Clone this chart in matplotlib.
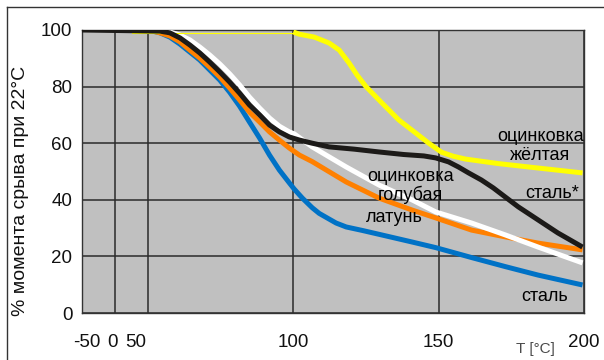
import numpy as np
import matplotlib.pyplot as plt
from matplotlib.lines import Line2D
from matplotlib.transforms import ScaledTranslation

plt.rcParams['font.family'] = ['Liberation Sans', 'DejaVu Sans']

# torque retained (% of value at 22 C) vs temperature
t_black = [-50, 54.1, 57.5, 61, 64.4, 67.8, 71.2, 74.7, 78.1, 81.5, 84.9, 88.4, 91.8, 95.2, 98.6,
           102.1, 106.5, 112.3, 120.9, 129.5, 138, 144.9, 149, 153.4, 156.8, 160.3, 164.7, 168.8,
           172.9, 177.4, 184.2, 191, 199.5]
v_black = [100, 99.6, 99, 97.2, 94.7, 91.9, 88.7, 85.2, 81.6, 77.7, 73.5, 70, 66.4, 64, 62.2,
           61.1, 60, 58.7, 57.9, 56.9, 56, 55.5, 54.8, 53.4, 51.6, 49.5, 47, 44.2,
           41, 37.5, 32.9, 28.3, 23.3]

t_blue = [50, 54.1, 57.5, 61, 64.4, 67.8, 71.2, 74.7, 78.1, 81.5, 84.9, 88.4, 91.8, 95.2, 98.6,
          100.3, 103.1, 106.5, 108.9, 112.3, 114.7, 118.2, 123.6, 129.5, 140.8, 149, 161.3,
          172.9, 184.2, 199.5]
v_blue = [100, 99, 97.5, 95, 92.2, 89.4, 85.9, 82.3, 78, 73.1, 67.5, 61.8, 55.8, 50.5, 46,
          43.8, 40.6, 37.2, 35.2, 33.2, 31.8, 30.4, 29.2, 27.8, 25.1, 23.1, 19.6,
          16.4, 13.4, 9.9]

t_orange = [50, 54.1, 57.5, 61, 64.4, 67.8, 71.2, 74.7, 78.1, 81.5, 84.9, 88.4, 91.8, 95.2, 98.6,
            102.1, 106.5, 118.2, 129.5, 140.8, 149, 161.3, 172.9, 184.2, 199.5]
v_orange = [100, 99, 97.9, 95.8, 92.9, 90.1, 86.9, 83.4, 79.5, 75.3, 71, 67.5, 64, 61.1, 58.3,
            55.8, 53.5, 46.3, 40.6, 36.4, 33.6, 29.3, 26.9, 24.7, 22.3]

t_white = [50, 57.5, 61, 64.4, 67.8, 71.2, 74.7, 78.1, 81.5, 84.9, 88.4, 91.8, 95.2, 98.6,
           100.3, 106.5, 118.2, 129.5, 140.8, 149, 161.3, 172.9, 184.2, 199.5]
v_white = [100, 99.3, 98.2, 96.5, 94, 91.2, 88, 84.5, 80.6, 76.3, 72.4, 68.9, 66, 64,
           63.3, 58.7, 51.6, 45.2, 40, 35.7, 31.8, 27.6, 23.3, 17.7]

t_yellow_thin = [25, 100]
v_yellow_thin = [99, 99]
t_yellow = [100, 102.1, 107.2, 112.3, 115.8, 119.2, 121.9, 125, 130.5, 136.3, 142.1, 146.6,
            151, 155, 159.2, 170.5, 181.8, 199.5]
v_yellow = [99.3, 98.5, 97.5, 95.4, 92.9, 88.3, 84.1, 80, 74.2, 68.2, 63.6, 60,
            56.8, 55.4, 54.4, 52.8, 51.5, 49.5]

xticks = [-50, 0, 50, 100, 150, 200]
yticks = [0, 20, 40, 60, 80, 100]

# axis is squeezed below 50 C
brk_t = [-50, 0, 50, 200]
brk_p = [0, 33, 66, 502]


def fwd(x):
    return np.interp(x, brk_t, brk_p)


def inv(p):
    return np.interp(p, brk_p, brk_t)


fig = plt.figure(figsize=(6.04, 3.6), dpi=100)
ax = fig.add_axes([82 / 604, 1 - 313 / 360, 502 / 604, 283 / 360])
ax.set_xscale('function', functions=(fwd, inv))
ax.set_xlim(-50, 200)
ax.set_ylim(0, 100)
ax.set_facecolor('#c0c0c0')

lw = 3.6
ax.plot(t_blue, v_blue, color='#0072c6', lw=lw, solid_capstyle='butt', zorder=3)
ax.plot(t_orange, v_orange, color='#ff8000', lw=lw, solid_capstyle='butt', zorder=4)
ax.plot(t_white, v_white, color='white', lw=lw, solid_capstyle='butt', zorder=5)
ax.plot(t_black, v_black, color='#1c1a18', lw=lw, solid_capstyle='butt', zorder=6)
ax.plot(t_yellow_thin, v_yellow_thin, color='#ffff00', lw=0.8, zorder=5)
ax.plot(t_yellow, v_yellow, color='#ffff00', lw=lw, solid_capstyle='butt', zorder=7)

ax.set_xticks(xticks)
ax.set_xticklabels([str(t) for t in xticks])
ax.set_yticks(yticks)
ax.grid(True, color='#2a2a2a', lw=1.1)
ax.set_axisbelow(True)
ax.tick_params(length=0, labelsize=13.5, colors='#111111')
ax.tick_params(axis='x', pad=15)
ax.tick_params(axis='y', pad=7)
for s in ax.spines.values():
    s.set_color('#333333')
    s.set_linewidth(1)

# crowded labels near the compressed part
shifts = [5, -3, -12]
for lab, dx in zip(ax.get_xticklabels()[:3], shifts):
    lab.set_transform(lab.get_transform() + ScaledTranslation(dx / 100, 0, fig.dpi_scale_trans))

fs = 13
ax.text(185, 59, 'оцинковка\nжёлтая', ha='center', va='center', fontsize=fs,
        linespacing=1.1, clip_on=False, zorder=8)
ax.text(189, 42.4, 'сталь*', ha='center', va='center', fontsize=fs, clip_on=False, zorder=8)
ax.text(140.4, 44.9, 'оцинковка\nголубая', ha='center', va='center', fontsize=fs,
        linespacing=1.1, zorder=8)
ax.text(134.6, 33.6, 'латунь', ha='center', va='center', fontsize=fs, zorder=8)
ax.text(186.6, 5.7, 'сталь', ha='center', va='center', fontsize=fs, zorder=8)

fig.text(21 / 604, 1 - 191 / 360, '% момента срыва при 22°C', rotation=90,
         ha='center', va='center', fontsize=14, color='#111111')
fig.text(535 / 604, 1 - 349 / 360, 'T [°C]', ha='center', va='center',
         fontsize=11, color='#4a4a4a')

# page frame
fig.add_artist(Line2D([7 / 604, 7 / 604], [0, 1 - 7 / 360], color='#333333', lw=1))
fig.add_artist(Line2D([7 / 604, 1], [1 - 7 / 360, 1 - 7 / 360], color='#333333', lw=1))

fig.savefig('out.png', dpi=100)
